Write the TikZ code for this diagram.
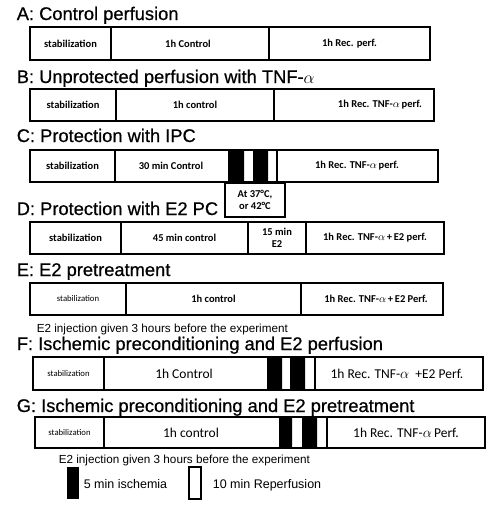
\documentclass[tikz,border=0pt]{standalone}
\usepackage{fontspec}
\setmainfont{Liberation Sans}
\newfontfamily\calib{Carlito}
\newfontfamily\ttlfont[FakeBold=0.6]{Liberation Sans}

\tikzset{
  ttl/.style={anchor=base west, inner sep=0pt, font=\ttlfont\fontsize{18.3}{20}\selectfont},
  seg/.style={font=\calib\bfseries\fontsize{10.5}{12}\selectfont, align=center},
  segsm/.style={font=\calib\fontsize{8.7}{10}\selectfont},
  segbig/.style={font=\calib\fontsize{13.5}{15}\selectfont},
  note/.style={anchor=base west, inner sep=0pt, font=\fontsize{11.7}{13}\selectfont},
  leg/.style={anchor=base west, inner sep=0pt, font=\fontsize{12.5}{14}\selectfont},
}

\begin{document}
\begin{tikzpicture}[x=1pt, y=-1pt, line width=1.6pt]
  \useasboundingbox (0,0) rectangle (493,506);

  % A
  \node[ttl] (tA) at (16,20) {A: Control perfusion};
  \draw (30,27) rectangle (430,60);
  \draw (111,27) -- (111,60) (269,27) -- (269,60);
  \node[seg] (a1) at (70.5,43.5) {stabilization};
  \node[seg] (a2) at (188,43.5) {1h Control};
  \node[seg] (a3) at (349.5,43.5) {1h Rec. perf.};

  % B
  \node[ttl] (tB) at (16,83) {B: Unprotected perfusion with TNF-$\alpha$};
  \draw (30,89) rectangle (434,121);
  \draw (116,89) -- (116,121) (274,89) -- (274,121);
  \node[seg] (b1) at (73,105) {stabilization};
  \node[seg] (b2) at (195,105) {1h control};
  \node[seg, anchor=east] (b3) at (426,105) {1h Rec. TNF-$\alpha$\,perf.};

  % C
  \node[ttl] (tC) at (16,142) {C: Protection with IPC};
  \draw (30,150) rectangle (438,182);
  \draw (115,150) -- (115,182) (277,150) -- (277,182);
  \fill (228,150) rectangle (244,182) (253,150) rectangle (268,182);
  \draw (225,183) rectangle (285,217);
  \node[seg] (c1) at (72.5,166) {stabilization};
  \node[seg] (c2) at (171,166) {30 min Control};
  \node[seg] (c3) at (357,166) {1h Rec. TNF-$\alpha$\,perf.};
  \node[seg] (c4) at (255,200) {At 37°C,\\or 42°C};

  % D
  \node[ttl] (tD) at (16,215) {D: Protection with E2 PC};
  \draw (30,222) rectangle (444,254);
  \draw (121,222) -- (121,254) (248,222) -- (248,254) (306,222) -- (306,254);
  \node[seg] (d1) at (75.5,238) {stabilization};
  \node[seg] (d2) at (184.5,238) {45 min control};
  \node[seg] (d3) at (277,238) {15 min\\E2};
  \node[seg] (d4) at (375,238) {1h Rec. TNF-$\alpha$\,+\,E2 perf.};

  % E
  \node[ttl] (tE) at (16,276) {E: E2 pretreatment};
  \draw (30,283) rectangle (443,315);
  \draw (126,283) -- (126,315) (301,283) -- (301,315);
  \node[segsm] (e1) at (78,299) {stabilization};
  \node[seg] (e2) at (213.5,299) {1h control};
  \node[seg] (e3) at (376,299) {1h Rec. TNF-$\alpha$\,+\,E2 Perf.};
  \node[note] (nE) at (36,332) {E2 injection given 3 hours before the experiment};

  % F
  \node[ttl] (tF) at (16,350) {F: Ischemic preconditioning and E2 perfusion};
  \draw (33,357) rectangle (483,390);
  \draw (104,357) -- (104,390) (315,357) -- (315,390);
  \fill (267,357) rectangle (282,390) (290,357) rectangle (305,390);
  \node[segsm] (f1) at (68.5,373.5) {stabilization};
  \node[segbig] (f2) at (184,373.5) {1h Control};
  \node[segbig] (f3) at (397,373.5) {1h Rec. TNF-$\alpha$ \ +E2 Perf.};

  % G
  \node[ttl] (tG) at (16,412) {G: Ischemic preconditioning and E2 pretreatment};
  \draw (35,417) rectangle (485,448);
  \draw (104,417) -- (104,448) (327,417) -- (327,448);
  \fill (279,417) rectangle (292,448) (302,417) rectangle (317,448);
  \node[segsm] (g1) at (69.5,432.5) {stabilization};
  \node[segbig] (g2) at (191,432.5) {1h control};
  \node[segbig] (g3) at (406,432.5) {1h Rec. TNF-$\alpha$\,Perf.};
  \node[note] (nG) at (58,463) {E2 injection given 3 hours before the experiment};

  % legend
  \fill (67,467) rectangle (79,499);
  \draw (189,467) rectangle (201,499);
  \node[leg] (l1) at (83,488) {5 min ischemia};
  \node[leg] (l2) at (212,488) {10 min Reperfusion};
\end{tikzpicture}
\end{document}
